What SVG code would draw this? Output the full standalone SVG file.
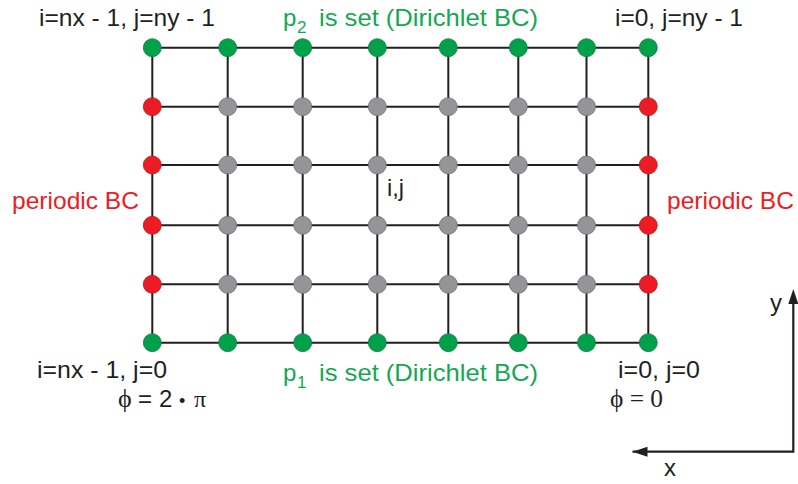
<svg xmlns="http://www.w3.org/2000/svg" width="798" height="484" viewBox="0 0 798 484">
<style>
.grid line{stroke:#231f20;stroke-width:2}
.g{fill:#00a14b;stroke:#1b7a3e;stroke-width:0.8}
.r{fill:#ed1c24;stroke:#b31b20;stroke-width:0.8}
.k{fill:#939598;stroke:#6d6e71;stroke-width:0.8}
text{font-family:"Liberation Sans",Arial,sans-serif;font-size:24px;fill:#231f20}
.gt{fill:#14a853}
.rt{fill:#ed1c24}
.serif{font-family:"Liberation Serif","Times New Roman",serif}
.axis{stroke:#231f20;stroke-width:2.2;fill:none}
</style>
<g id="connectors" class="grid">
<line x1="152.3" y1="47.7" x2="648.3" y2="47.7"/>
<line x1="152.3" y1="106.7" x2="648.3" y2="106.7"/>
<line x1="152.3" y1="165" x2="648.3" y2="165"/>
<line x1="152.3" y1="225.3" x2="648.3" y2="225.3"/>
<line x1="152.3" y1="284.3" x2="648.3" y2="284.3"/>
<line x1="152.3" y1="342.7" x2="648.3" y2="342.7"/>
<line x1="152.3" y1="47.7" x2="152.3" y2="342.7"/>
<line x1="227.7" y1="47.7" x2="227.7" y2="342.7"/>
<line x1="302.7" y1="47.7" x2="302.7" y2="342.7"/>
<line x1="377.3" y1="47.7" x2="377.3" y2="342.7"/>
<line x1="448.3" y1="47.7" x2="448.3" y2="342.7"/>
<line x1="518.3" y1="47.7" x2="518.3" y2="342.7"/>
<line x1="586.5" y1="47.7" x2="586.5" y2="342.7"/>
<line x1="648.3" y1="47.7" x2="648.3" y2="342.7"/>
</g>
<g id="nodes">
<g id="row5">
<circle class="g" cx="152.3" cy="47.7" r="9"/><circle class="g" cx="227.7" cy="47.7" r="9"/><circle class="g" cx="302.7" cy="47.7" r="9"/><circle class="g" cx="377.3" cy="47.7" r="9"/><circle class="g" cx="448.3" cy="47.7" r="9"/><circle class="g" cx="518.3" cy="47.7" r="9"/><circle class="g" cx="586.5" cy="47.7" r="9"/><circle class="g" cx="648.3" cy="47.7" r="9"/>
</g>
<g id="row4">
<circle class="r" cx="152.3" cy="106.7" r="9"/><circle class="k" cx="227.7" cy="106.7" r="9"/><circle class="k" cx="302.7" cy="106.7" r="9"/><circle class="k" cx="377.3" cy="106.7" r="9"/><circle class="k" cx="448.3" cy="106.7" r="9"/><circle class="k" cx="518.3" cy="106.7" r="9"/><circle class="k" cx="586.5" cy="106.7" r="9"/><circle class="r" cx="648.3" cy="106.7" r="9"/>
</g>
<g id="row3">
<circle class="r" cx="152.3" cy="165" r="9"/><circle class="k" cx="227.7" cy="165" r="9"/><circle class="k" cx="302.7" cy="165" r="9"/><circle class="k" cx="377.3" cy="165" r="9"/><circle class="k" cx="448.3" cy="165" r="9"/><circle class="k" cx="518.3" cy="165" r="9"/><circle class="k" cx="586.5" cy="165" r="9"/><circle class="r" cx="648.3" cy="165" r="9"/>
</g>
<g id="row2">
<circle class="r" cx="152.3" cy="225.3" r="9"/><circle class="k" cx="227.7" cy="225.3" r="9"/><circle class="k" cx="302.7" cy="225.3" r="9"/><circle class="k" cx="377.3" cy="225.3" r="9"/><circle class="k" cx="448.3" cy="225.3" r="9"/><circle class="k" cx="518.3" cy="225.3" r="9"/><circle class="k" cx="586.5" cy="225.3" r="9"/><circle class="r" cx="648.3" cy="225.3" r="9"/>
</g>
<g id="row1">
<circle class="r" cx="152.3" cy="284.3" r="9"/><circle class="k" cx="227.7" cy="284.3" r="9"/><circle class="k" cx="302.7" cy="284.3" r="9"/><circle class="k" cx="377.3" cy="284.3" r="9"/><circle class="k" cx="448.3" cy="284.3" r="9"/><circle class="k" cx="518.3" cy="284.3" r="9"/><circle class="k" cx="586.5" cy="284.3" r="9"/><circle class="r" cx="648.3" cy="284.3" r="9"/>
</g>
<g id="row0">
<circle class="g" cx="152.3" cy="342.7" r="9"/><circle class="g" cx="227.7" cy="342.7" r="9"/><circle class="g" cx="302.7" cy="342.7" r="9"/><circle class="g" cx="377.3" cy="342.7" r="9"/><circle class="g" cx="448.3" cy="342.7" r="9"/><circle class="g" cx="518.3" cy="342.7" r="9"/><circle class="g" cx="586.5" cy="342.7" r="9"/><circle class="g" cx="648.3" cy="342.7" r="9"/>
</g>
</g>
<g id="labels">
<text x="39" y="26" textLength="176" lengthAdjust="spacingAndGlyphs">i=nx - 1, j=ny - 1</text>
<text class="gt" x="283" y="26">p</text>
<text class="gt" x="297" y="33" style="font-size:17px">2</text>
<text class="gt" x="319" y="26" textLength="219" lengthAdjust="spacingAndGlyphs">is set (Dirichlet BC)</text>
<text x="615" y="26" textLength="128" lengthAdjust="spacingAndGlyphs">i=0, j=ny - 1</text>
<text class="rt" x="12" y="209" textLength="127" lengthAdjust="spacingAndGlyphs">periodic BC</text>
<text class="rt" x="667" y="209" textLength="127" lengthAdjust="spacingAndGlyphs">periodic BC</text>
<text x="387" y="196" textLength="17" lengthAdjust="spacingAndGlyphs">i,j</text>
<text x="37" y="378" textLength="130" lengthAdjust="spacingAndGlyphs">i=nx - 1, j=0</text>
<text class="gt" x="283" y="381">p</text>
<text class="gt" x="297" y="388" style="font-size:17px">1</text>
<text class="gt" x="319" y="381" textLength="219" lengthAdjust="spacingAndGlyphs">is set (Dirichlet BC)</text>
<text x="618" y="378" textLength="82" lengthAdjust="spacingAndGlyphs">i=0, j=0</text>
<text x="118" y="407"><tspan class="serif" style="font-size:26px">ϕ</tspan><tspan x="138">=</tspan><tspan x="159">2</tspan><tspan x="179" style="font-size:18px">•</tspan><tspan class="serif" x="194">π</tspan></text>
<text class="serif" x="610" y="407" textLength="53" lengthAdjust="spacingAndGlyphs" style="font-size:26px">ϕ = 0</text>
<text x="770" y="311">y</text>
<text x="664" y="476">x</text>
</g>
<g id="axes">
<path class="axis" d="M632.5,451.7 H793.3 V295"/>
<polygon points="793.3,289 788.3,304 798.3,304" fill="#231f20"/>
<polygon points="632.5,451.7 647.5,446.7 647.5,456.7" fill="#231f20"/>
</g>
</svg>
